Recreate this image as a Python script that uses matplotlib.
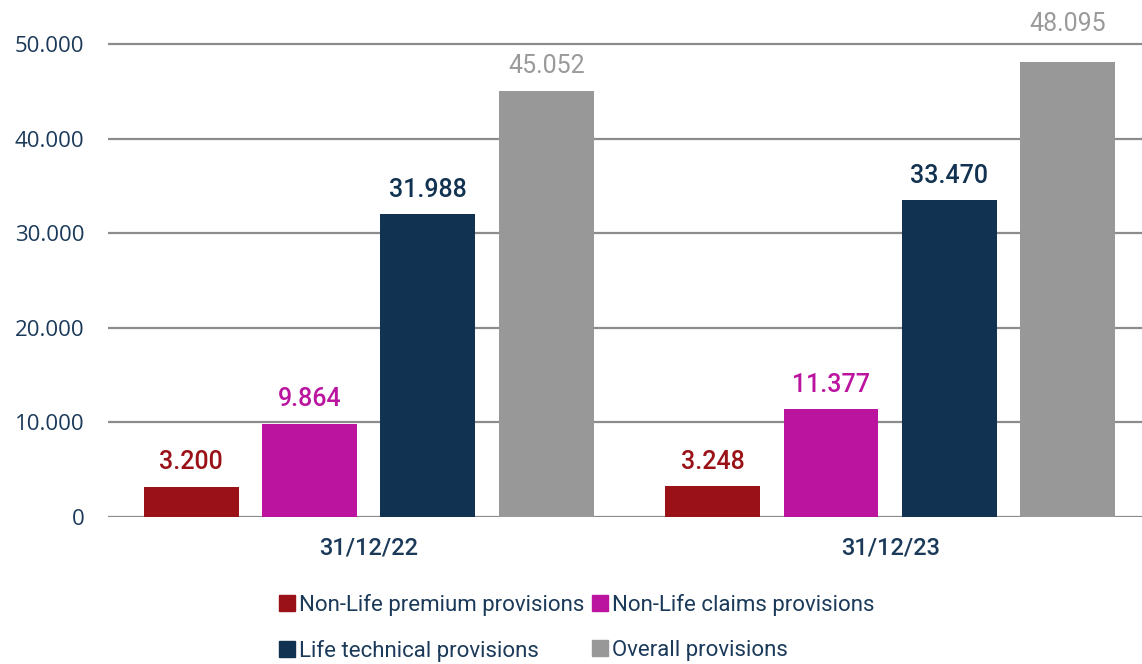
import numpy as np
import matplotlib.pyplot as plt
from matplotlib.lines import Line2D

# data
dates = ['31/12/22', '31/12/23']
seriesNames = ['Non-Life premium provisions', 'Non-Life claims provisions',
               'Life technical provisions', 'Overall provisions']
nonLifePremium = [3200, 3248]
nonLifeClaims = [9864, 11377]
lifeTechnical = [31988, 33470]
overall = [45052, 48095]
yTicks = [0, 10000, 20000, 30000, 40000, 50000]

colors = ['#9a1118', '#bb15a0', '#113250', '#989898']
labelColors = ['#9a1118', '#bb15a0', '#113250', '#9a9a9a']
navy = '#1b3a5a'
dinLike = ['Roboto', 'DejaVu Sans']


def fmt(v):
    return '{:,}'.format(v).replace(',', '.')


fig = plt.figure(figsize=(11.42, 6.64), dpi=100)
ax = fig.add_axes([108 / 1142, (664 - 517) / 664, (1142 - 108) / 1142, 491.9 / 664])

x = np.arange(len(dates))
barWidth = 0.182
step = 0.227
allSeries = [nonLifePremium, nonLifeClaims, lifeTechnical, overall]
for i, values in enumerate(allSeries):
    offs = (i - 1.5) * step
    bars = ax.bar(x + offs, values, width=barWidth, color=colors[i], zorder=3)
    for b, v in zip(bars, values):
        # lift the label clear of the top gridline if it would sit on it
        lift = 9
        if v < yTicks[-1] and v + 2500 > yTicks[-1]:
            lift = 19
        ax.annotate(fmt(v), (b.get_x() + b.get_width() / 2, v),
                    xytext=(0, lift), textcoords='offset points',
                    ha='center', va='bottom', fontsize=18, color=labelColors[i],
                    family=dinLike, fontweight='medium' if i < 3 else 'normal')

ax.set_xlim(-0.5, 1.483)
ax.set_ylim(0, 52000)
ax.set_yticks(yTicks)
ax.set_yticklabels([fmt(t) for t in yTicks], family=['Open Sans', 'DejaVu Sans'],
                   fontsize=16, color=navy)
ax.set_xticks(x)
ax.set_xticklabels(dates, family=dinLike, fontsize=17, fontweight='medium', color=navy)
ax.tick_params(axis='y', length=0, pad=17)
ax.tick_params(axis='x', length=0, pad=14)
for s in ax.spines.values():
    s.set_visible(False)
ax.grid(axis='y', color='#8c8c8c', linewidth=1.6, zorder=0)

# legend fills column-first, so reorder to read row by row
order = [0, 2, 1, 3]
handles = [Line2D([], [], marker='s', linestyle='none', markersize=11,
                  markerfacecolor=colors[k], markeredgecolor=colors[k]) for k in order]
leg = fig.legend(handles, [seriesNames[k] for k in order], ncol=2, loc='upper left',
                 bbox_to_anchor=(260 / 1142, 1 - 574 / 664), frameon=False,
                 prop={'family': dinLike, 'size': 16}, labelcolor=navy,
                 handlelength=0.6, handletextpad=0.25, columnspacing=0.4,
                 labelspacing=1.08)

plt.savefig('out.png', dpi=100)
plt.close()
